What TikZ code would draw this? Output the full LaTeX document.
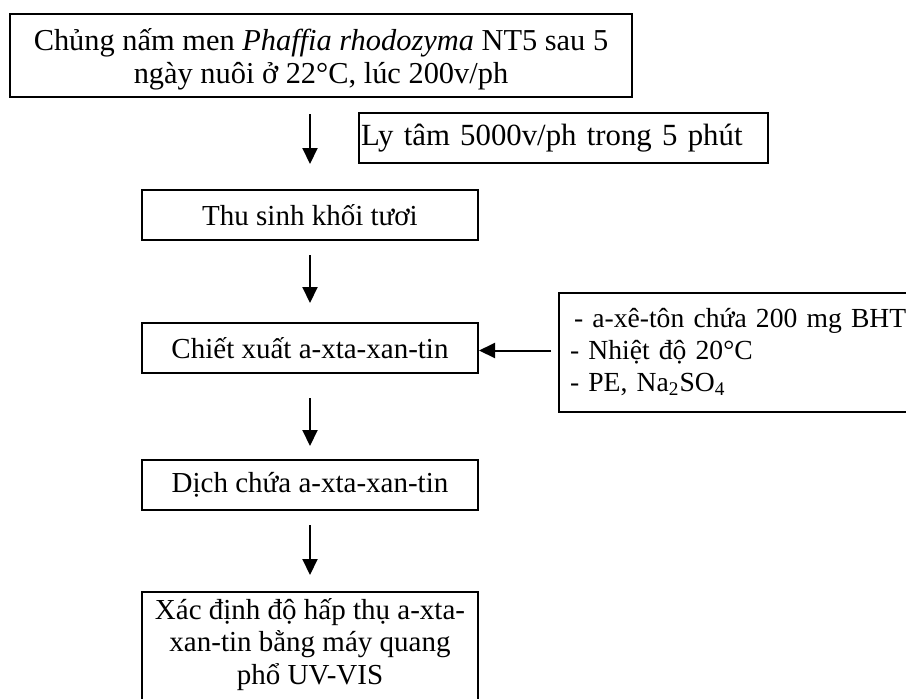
\documentclass[tikz,border=0pt]{standalone}
\usepackage{fontspec}
\setmainfont{Liberation Serif}
\usepackage{tikz}
\usetikzlibrary{arrows.meta, positioning}

\begin{document}
\begin{tikzpicture}[line width=1pt, every node/.style={align=center, font=\fontsize{14.5pt}{16.3pt}\selectfont},
    stepbox/.style={draw, rectangle, minimum width=168pt, minimum height=25pt, inner ysep=1pt},
    flow/.style={-{Triangle[length=8pt, width=7.5pt]}}]
        \useasboundingbox (0,0) rectangle (453pt,-349pt);
        \clip (0,0) rectangle (453pt,-349pt);
        \node (nuoi) [draw, rectangle, minimum width=311pt, minimum height=41.5pt, inner ysep=1pt, font=\fontsize{15.2pt}{16.5pt}\selectfont] at (160.5pt,-27.75pt) {\rule{0pt}{15pt}Chủng nấm men \textit{Phaffia rhodozyma} NT5 sau 5\\ngày nuôi ở 22°C, lúc 200v/ph};
        \node (thu) [stepbox, below=45.5pt of nuoi, xshift=-5.5pt] {Thu sinh khối tươi};
        \node (chiet) [stepbox, below=40.5pt of thu] {Chiết xuất a-xta-xan-tin};
        \node (dich) [stepbox, below=42.5pt of chiet] {Dịch chứa a-xta-xan-tin};
        \node (xacdinh) [stepbox, minimum height=0pt, inner ysep=3pt, below=40pt of dich] {Xác định độ hấp thụ a-xta-\\xan-tin bằng máy quang\\phổ UV-VIS\rule[-14pt]{0pt}{1pt}};
        \node (lytam) [draw, rectangle, anchor=west, text width=202.5pt, align=left, inner xsep=1pt, minimum height=25pt, inner ysep=1pt, font=\fontsize{15.4pt}{18pt}\selectfont] at (179pt,-69pt) {Ly tâm 5000v/ph trong 5 phút};
        \node (dieukien) [draw, rectangle, text width=185pt, align=left, inner xsep=5.5pt, minimum height=59.5pt, inner ysep=1pt, right=39.5pt of chiet, yshift=-2pt, font=\fontsize{13.8pt}{16pt}\selectfont] {\hspace{2pt}- a-xê-tôn chứa 200 mg BHT\\- Nhiệt độ 20°C\\- PE, Na\textsubscript{2}SO\textsubscript{4}};

        \draw[flow, shorten <=8pt, shorten >=12.5pt] (thu |- nuoi.south) -- (thu.north);
        \draw[flow, shorten <=7pt, shorten >=9.5pt] (thu) -- (chiet);
        \draw[flow, shorten <=12pt, shorten >=6.5pt] (chiet) -- (dich);
        \draw[flow, shorten <=7pt, shorten >=8pt] (dich) -- (xacdinh);
        \draw[flow, shorten <=3.5pt] ([yshift=0.75pt]dieukien.west) -- ([yshift=0.75pt]dieukien.west -| chiet.east);
    \end{tikzpicture}
\end{document}
